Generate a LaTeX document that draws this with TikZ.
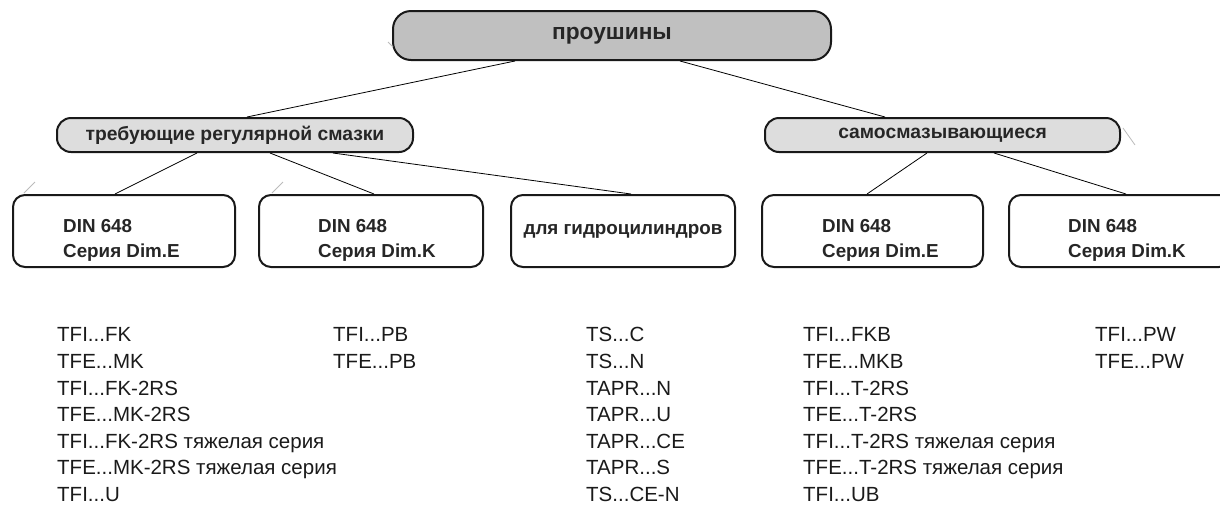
\documentclass[tikz,border=0pt]{standalone}
\usepackage{fontspec}
\setmainfont{Liberation Sans}
\newfontfamily\listfont{Liberation Sans}
\definecolor{topfill}{HTML}{C0C0C0}
\definecolor{grpfill}{HTML}{DDDDDD}
\definecolor{listcol}{HTML}{1A1A1A}
\definecolor{faint}{HTML}{BBBBBB}
\begin{document}
\begin{tikzpicture}[x=1pt,y=-1pt,
  topnode/.style={draw=black!90, line width=2pt, fill=topfill, rounded corners=18pt,
    minimum width=438pt, minimum height=49pt, font=\fontsize{22.7}{26}\selectfont\bfseries, text=black!85},
  grpnode/.style={draw=black!90, line width=2pt, fill=grpfill, rounded corners=14pt,
    minimum height=34pt, font=\fontsize{19.3}{22}\selectfont\bfseries, text=black!85},
  boxnode/.style={draw=black!90, line width=2pt, fill=white, rounded corners=12pt,
    minimum height=72pt, inner sep=0pt, font=\fontsize{18.8}{25}\selectfont\bfseries, text=black!85},
  boxtext/.style={anchor=base west, inner sep=0pt, font=\fontsize{18.8}{25}\selectfont\bfseries, text=black!85, align=left},
  conn/.style={draw=black, line width=0.8pt},
  lst/.style={anchor=base west, inner sep=0pt, font=\listfont\fontsize{20.5}{26.6}\selectfont, text=listcol, align=left},
  faintline/.style={draw=faint, line width=0.8pt}
]
\useasboundingbox (0,0) rectangle (1220,504);

% top
\node[topnode] (top) at (612,35.5) {проушины};
% groups
\node[grpnode, minimum width=356pt] (lg) at (235,135) {требующие регулярной смазки};
\node[grpnode, minimum width=355pt] (rg) at (942.5,135) {самосмазывающиеся};
% boxes
\node[boxnode, minimum width=222pt] (b1) at (124,231) {};
\node[boxnode, minimum width=224pt] (b2) at (371,231) {};
\node[boxnode, minimum width=224pt] (b3) at (623,231) {для гидроцилиндров};
\node[boxnode, minimum width=221pt] (b4) at (872.5,231) {};
\node[boxnode, minimum width=222pt] (b5) at (1120,231) {};

% box labels (base = last line's baseline)
\node[boxtext] (t1) at (63,257) {DIN 648\\Серия Dim.E};
\node[boxtext] (t2) at (318,257) {DIN 648\\Серия Dim.K};
\node[boxtext] (t4) at (822,257) {DIN 648\\Серия Dim.E};
\node[boxtext] (t5) at (1068,257) {DIN 648\\Серия Dim.K};

% connectors
\draw[conn] ([xshift=-97pt]top.south) -- ([xshift=12pt]lg.north);
\draw[conn] ([xshift=68pt]top.south) -- ([xshift=-57.5pt]rg.north);
\draw[conn] ([xshift=-38pt]lg.south) -- ([xshift=-9pt]b1.north);
\draw[conn] ([xshift=35pt]lg.south) -- ([xshift=3pt]b2.north);
\draw[conn] ([xshift=98pt]lg.south) -- ([xshift=8pt]b3.north);
\draw[conn] ([xshift=-15.5pt]rg.south) -- ([xshift=-5.5pt]b4.north);
\draw[conn] ([xshift=51.5pt]rg.south) -- ([xshift=6pt]b5.north);

% faint artefact strokes
\draw[faintline] (388,42) -- (393,47);
\draw[faintline] (35,182) -- (24,193);
\draw[faintline] (283,182) -- (272,193);
\draw[faintline] (1123,128) -- (1135,145);

% lists (base = last line's baseline)
\node[lst] (l1) at (57,501.5) {TFI...FK\\TFE...MK\\TFI...FK-2RS\\TFE...MK-2RS\\TFI...FK-2RS тяжелая серия\\TFE...MK-2RS тяжелая серия\\TFI...U};
\node[lst] (l2) at (333,368.5) {TFI...PB\\TFE...PB};
\node[lst] (l3) at (586,501.5) {TS...C\\TS...N\\TAPR...N\\TAPR...U\\TAPR...CE\\TAPR...S\\TS...CE-N};
\node[lst] (l4) at (803,501.5) {TFI...FKB\\TFE...MKB\\TFI...T-2RS\\TFE...T-2RS\\TFI...T-2RS тяжелая серия\\TFE...T-2RS тяжелая серия\\TFI...UB};
\node[lst] (l5) at (1095,368.5) {TFI...PW\\TFE...PW};
\end{tikzpicture}
\end{document}
